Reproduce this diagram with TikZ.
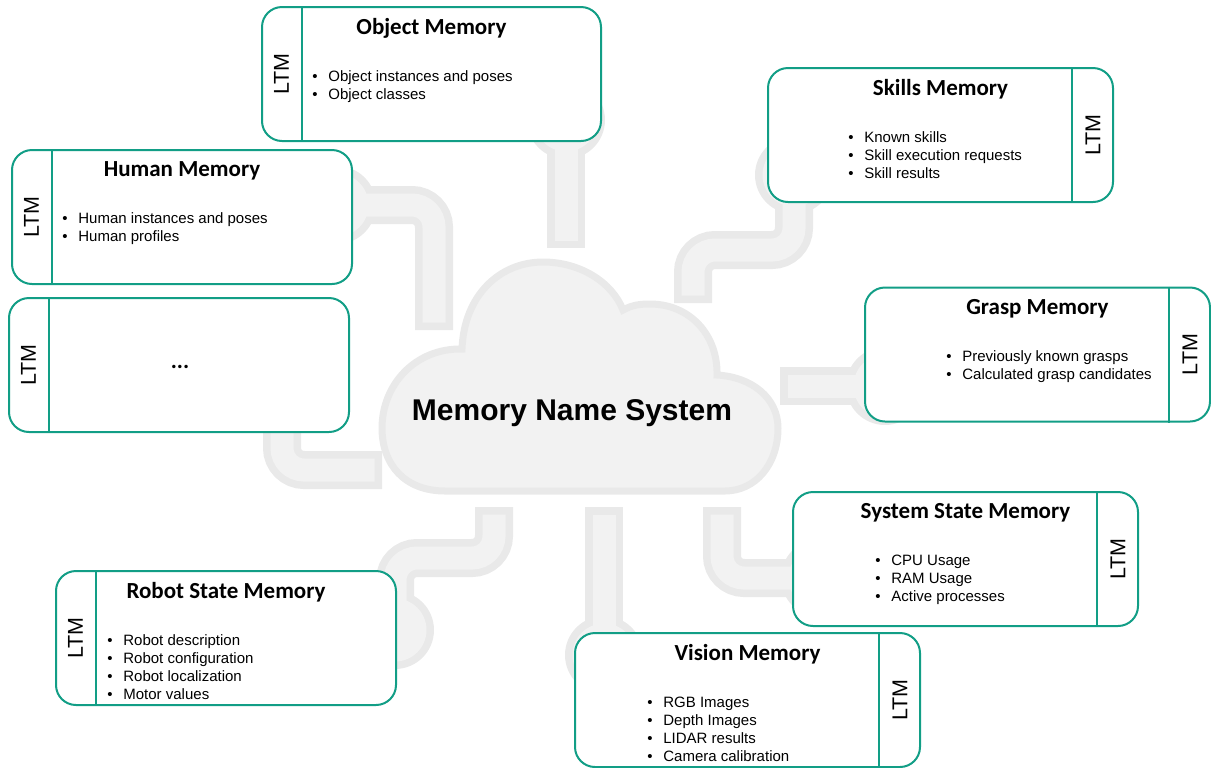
\documentclass[tikz,border=0pt]{standalone}
\usepackage{fontspec}
\setmainfont{Liberation Sans}
\newfontfamily\titlefont{Carlito}
\usetikzlibrary{calc}

\definecolor{mmteal}{RGB}{18,158,134}
\definecolor{pipefill}{RGB}{242,242,242}
\definecolor{pipeedge}{RGB}{233,233,233}

\newcommand{\memitem}[1]{\makebox[8pt][l]{\textbullet}#1}

\newcommand{\pipepass}[4]{%
  \foreach \padname in {objectpad,humanpad,skillspad,grasppad,systempad,visionpad,robotpad}
    {\fill[#1] (\padname) circle[radius=#3];}
  \begin{scope}[draw=#1, line width=#2, rounded corners=11pt, #4]
    \draw (objectpad) -- (objectend);
    \draw (humanpad) -| (humanend);
    \draw (dotspad) |- (dotsend);
    \draw (robotpad) |- (494,558) -- (robotend);
    \draw (visionpad) -- (visionend);
    \draw (systempad) -| (systemend);
    \draw (grasppad) -- (graspend);
    \draw (skillspad) |- (693,250) -- (skillsend);
  \end{scope}}

\tikzset{
  memorybox/.style={draw=mmteal, line width=1pt, rounded corners=10pt, fill=white,
    minimum height=67pt, inner sep=0pt},
  memoryline/.style={draw=mmteal, line width=1pt},
  titletext/.style={font=\titlefont\fontsize{11.5}{14}\selectfont\bfseries},
  itemtext/.style={font=\fontsize{7.5}{9}\selectfont, align=left, anchor=north west, inner sep=0pt},
  ltmtext/.style={font=\fontsize{10.75}{13}\selectfont, rotate=90, inner sep=0pt},
  cloudtext/.style={font=\fontsize{15}{18}\selectfont\bfseries},
  cloudshape/.style={fill=pipefill, draw=pipeedge, line width=3.5pt},
}

\begin{document}
\begin{tikzpicture}[x=0.5pt, y=-0.5pt]
\useasboundingbox (0,0) rectangle (1211,767);

\coordinate (objectpad) at (566,120);
\coordinate (objectend) at (566,248);
\coordinate (humanpad) at (337,205);
\coordinate (humanend) at (434,330);
\coordinate (dotspad) at (282,420);
\coordinate (dotsend) at (382,470);
\coordinate (robotpad) at (395,630);
\coordinate (robotend) at (494,507);
\coordinate (visionpad) at (604,655);
\coordinate (visionend) at (604,507);
\coordinate (systempad) at (820,578);
\coordinate (systemend) at (722,507);
\coordinate (grasppad) at (885,386);
\coordinate (graspend) at (780,386);
\coordinate (skillspad) at (794,175);
\coordinate (skillsend) at (693,303);

\pipepass{pipeedge}{19pt}{19.5pt}{}
\pipepass{pipefill}{11.5pt}{15.75pt}{shorten >=3.75pt}

\draw[cloudshape] (445,491) .. controls (405,491) and (382,465) .. (382,428)
  .. controls (382,385) and (415,348) .. (462,349)
  .. controls (464,295) and (500,262) .. (543,262)
  .. controls (580,262) and (612,282) .. (623,310)
  .. controls (632,305) and (640,304) .. (650,304)
  .. controls (690,304) and (718,335) .. (717,375)
  .. controls (752,377) and (778,398) .. (778,428)
  .. controls (778,465) and (755,491) .. (725,491)
  -- cycle;
\node[cloudtext] (mns) at (572,413) {Memory Name System};

\node[memorybox, minimum width=169.5pt] (object) at (431.5,74) {};
\node[memorybox, minimum width=170pt] (human) at (182,217) {};
\node[memorybox, minimum width=170pt] (dots) at (179,365) {};
\node[memorybox, minimum width=170pt] (robot) at (226,638) {};
\node[memorybox, minimum width=172.5pt] (skills) at (940.5,135) {};
\node[memorybox, minimum width=172.5pt] (grasp) at (1037.5,354.5) {};
\node[memorybox, minimum width=172.5pt] (system) at (965.5,559) {};
\node[memorybox, minimum width=172.5pt] (vision) at (747.5,700) {};

\foreach \b in {object,human,dots,robot} {
  \draw[memoryline] ([xshift=20.5pt]\b.north west) -- ([xshift=20.5pt]\b.south west);
  \node[ltmtext] (\b ltm) at ([xshift=10.25pt]\b.west) {LTM};
}
\foreach \b in {skills,grasp,system,vision} {
  \draw[memoryline] ([xshift=-21pt]\b.north east) -- ([xshift=-21pt]\b.south east);
  \node[ltmtext] (\b ltm) at ([xshift=-10.5pt]\b.east) {LTM};
}

\node[titletext] (objecttitle) at ([yshift=-11pt]object.north) {Object Memory};
\node[titletext] (humantitle) at ([yshift=-11pt]human.north) {Human Memory};
\node[titletext] (robottitle) at ([yshift=-11pt]robot.north) {Robot State Memory};
\node[titletext] (skillstitle) at ([yshift=-11pt]skills.north) {Skills Memory};
\node[titletext] (grasptitle) at ([yshift=-11pt]grasp.north) {Grasp Memory};
\node[titletext] (systemtitle) at ([yshift=-11pt]system.north) {System State Memory};
\node[titletext] (visiontitle) at ([yshift=-11pt]vision.north) {Vision Memory};
\node[titletext] (dotstext) at (180,367) {...};

\node[itemtext] (objectitems) at (312,70) {\memitem{Object instances and poses}\\ \memitem{Object classes}};
\node[itemtext] (humanitems) at (62,212) {\memitem{Human instances and poses}\\ \memitem{Human profiles}};
\node[itemtext] (robotitems) at (107,634) {\memitem{Robot description}\\ \memitem{Robot configuration}\\ \memitem{Robot localization}\\ \memitem{Motor values}};
\node[itemtext] (skillsitems) at (848,131) {\memitem{Known skills}\\ \memitem{Skill execution requests}\\ \memitem{Skill results}};
\node[itemtext] (graspitems) at (946,350) {\memitem{Previously known grasps}\\ \memitem{Calculated grasp candidates}};
\node[itemtext] (systemitems) at (875,555) {\memitem{CPU Usage}\\ \memitem{RAM Usage}\\ \memitem{Active processes}};
\node[itemtext] (visionitems) at (647,697) {\memitem{RGB Images}\\ \memitem{Depth Images}\\ \memitem{LIDAR results}\\ \memitem{Camera calibration}};
\end{tikzpicture}
\end{document}
